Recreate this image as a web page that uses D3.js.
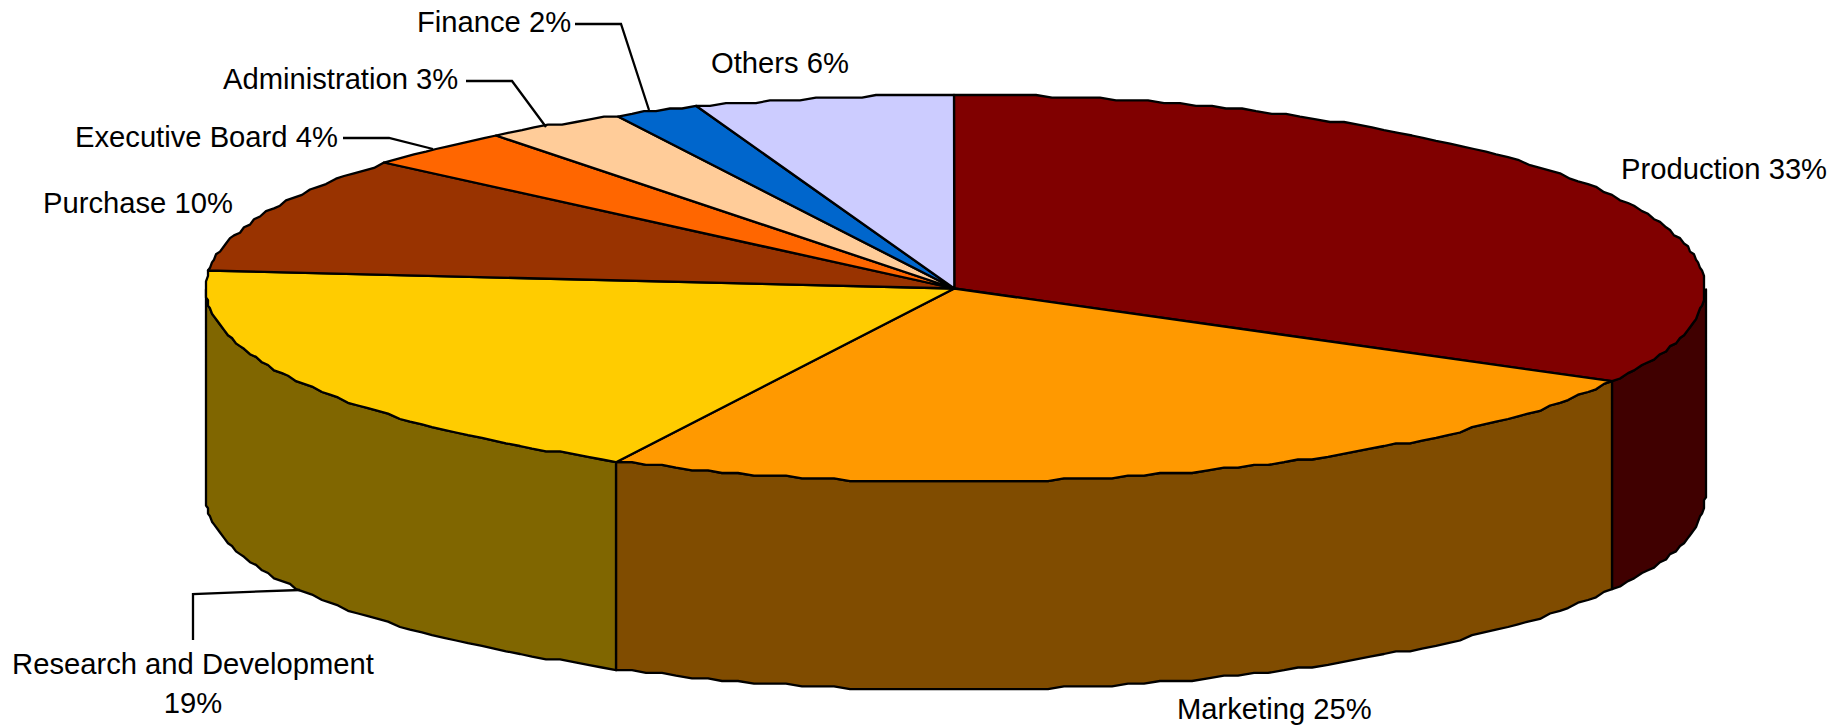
<!DOCTYPE html>
<html>
<head>
<meta charset="utf-8">
<style>html,body{margin:0;padding:0;background:#fff;overflow:hidden}text{font-family:"Liberation Sans",Arial,sans-serif;font-size:29.2px;fill:#000}</style>
<script src="https://cdn.jsdelivr.net/npm/d3@7"></script>
</head>
<body>
<script>
const categories = ["Production","Marketing","Research and Development","Purchase","Executive Board","Administration","Finance","Others"];
const shares = [32.95,24.45,18.9,9.8,3.3,3.1,1.8,5.6];
const percentLabels = ["33%","25%","19%","10%","4%","3%","2%","6%"];
const topColors = ["#800000","#FF9900","#FFCC00","#993300","#FF6600","#FFCC99","#0066CC","#CCCCFF"];
const wallColors = ["#400000","#804C00","#806600","#4D1A00","#803300","#80664D","#003366","#666680"];

const W=1845,H=726;
const DEPTH=208, SW=2.3, GX=2, GY=2.7, STEP=0.022;
const x=d3.scaleLinear().domain([-1,0,1]).range([206,954.3,1705]);
const y=d3.scaleLinear().domain([-1,0,1]).range([95,288.5,481.7]);
const svg=d3.select("body").append("svg").attr("width",W).attr("height",H);
const slices=d3.pie().sort(null).value(d=>d)(shares);
const line=d3.line();
const snap=(v,g,o)=>o+Math.round((v-o)/g)*g;
const rim=(a,dy=0)=>[snap(x(Math.sin(a)),GX,206),snap(y(-Math.cos(a)),GY,95)+dy];
const arcPts=(a0,a1,dy=0)=>{const n=Math.max(2,Math.ceil((a1-a0)/STEP));
  return d3.range(n+1).map(i=>rim(a0+(a1-a0)*i/n,dy));};

// front wall
const PI=Math.PI;
const wallG=svg.append("g");
slices.forEach((s,i)=>{
  const a0=Math.max(s.startAngle,PI/2), a1=Math.min(s.endAngle,3*PI/2);
  if(a1<=a0) return;
  const top=arcPts(a0,a1), bot=arcPts(a0,a1,DEPTH).reverse();
  wallG.append("path").attr("d",line(top.concat(bot))+"Z")
    .attr("fill",wallColors[i]).attr("stroke","#000").attr("stroke-width",SW).attr("stroke-linejoin","round");
});
// top
const topG=svg.append("g");
slices.forEach((s,i)=>{
  topG.append("path").attr("d",line([[x(0),y(0)]].concat(arcPts(s.startAngle,s.endAngle)))+"Z")
    .attr("fill",topColors[i]).attr("stroke","#000").attr("stroke-width",SW).attr("stroke-linejoin","round");
});

// leader lines
const leaders=[
 [[575,24],[621,24],[649,110]],
 [[466,81],[512,81],[546,127]],
 [[343,138],[389,138],[433,149]],
 [[193,640],[193,594],[300,590]]
];
svg.append("g").selectAll("path").data(leaders).join("path")
  .attr("d",d=>line(d)).attr("fill","none").attr("stroke","#000").attr("stroke-width",SW);

// labels
const labelLayout=[
 {i:0,x:1621,y:179},{i:1,x:1177,y:719},{i:3,x:43,y:213},{i:4,x:75,y:147},
 {i:5,x:223,y:89},{i:6,x:417,y:32},{i:7,x:711,y:73}
];
svg.append("g").selectAll("text").data(labelLayout).join("text")
  .attr("x",d=>d.x).attr("y",d=>d.y)
  .text(d=>categories[d.i]+" "+percentLabels[d.i]);
svg.append("text").attr("x",193).attr("y",674).attr("text-anchor","middle").text(categories[2]);
svg.append("text").attr("x",193).attr("y",713).attr("text-anchor","middle").text(percentLabels[2]);
</script>
</body>
</html>
